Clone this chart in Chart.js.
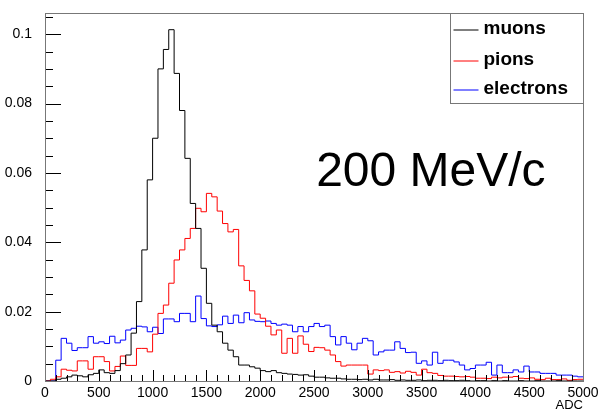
<!DOCTYPE html>
<html>
<head>
<meta charset="utf-8">
<script src="https://cdn.jsdelivr.net/npm/chart.js@4.4.1/dist/chart.umd.min.js"></script>
<style>
  html, body { margin: 0; padding: 0; background: #ffffff; }
  canvas { display: block; }
</style>
</head>
<body>
<canvas id="c" width="598" height="413"></canvas>
<script>
// Histogram binning: 100 bins of 50 ADC counts from 0 to 5000
const binWidth = 50;

// Normalised counts per bin
const muons = [
  0, 0, 0.0005, 0.0008, 0.0012, 0.0017, 0.0015, 0.0012, 0.0018, 0.0022,
  0.0032, 0.0024, 0.0022, 0.0030, 0.0050, 0.0075, 0.0138, 0.0229, 0.0378, 0.0580,
  0.0700, 0.0900, 0.0956, 0.1013, 0.0887, 0.0780, 0.0642, 0.0512, 0.0440, 0.0325,
  0.0224, 0.0161, 0.0142, 0.0109, 0.0089, 0.0070, 0.0046, 0.0046, 0.0041, 0.0037,
  0.0030, 0.0027, 0.0030, 0.0024, 0.0022, 0.0020, 0.0019, 0.0017, 0.0018, 0.0014,
  0.0011, 0.0011, 0.0009, 0.0008, 0.0008, 0.0006, 0.0005, 0.0005, 0.0004, 0.0005,
  0.0003, 0.0005, 0.0003, 0.0003, 0.0004, 0.0002, 0.0003, 0.0002, 0.0002, 0.0003,
  0.0001, 0.0002, 0.0002, 0.0001, 0.0002, 0.0001, 0.0001, 0.0002, 0.0001, 0,
  0.0001, 0.0001, 0, 0.0001, 0, 0.0001, 0, 0, 0.0001, 0,
  0, 0.0001, 0, 0, 0, 0.0001, 0, 0, 0, 0
];

const pions = [
  0, 0.0005, 0.0012, 0.0034, 0.0031, 0.0029, 0.0058, 0.0058, 0.0034, 0.0070,
  0.0070, 0.0056, 0.0029, 0.0042, 0.0072, 0.0045, 0.0045, 0.0094, 0.0094, 0.0084,
  0.0135, 0.0195, 0.0219, 0.0282, 0.0349, 0.0378, 0.0411, 0.0440, 0.0498, 0.0488,
  0.0541, 0.0531, 0.0490, 0.0454, 0.0430, 0.0437, 0.0332, 0.0290, 0.0260, 0.0193,
  0.0181, 0.0158, 0.0133, 0.0147, 0.0080, 0.0123, 0.0080, 0.0130, 0.0106, 0.0085,
  0.0097, 0.0096, 0.0089, 0.0075, 0.0056, 0.0043, 0.0046, 0.0046, 0.0046, 0.0046,
  0.0020, 0.0032, 0.0030, 0.0032, 0.0025, 0.0027, 0.0023, 0.0028, 0.0025, 0.0017,
  0.0034, 0.0024, 0.0022, 0.0016, 0.0014, 0.0014, 0.0013, 0.0012, 0.0013, 0.0011,
  0.0008, 0.0008, 0.0007, 0.0011, 0.0009, 0.0011, 0.0011, 0.0013, 0.0008, 0.0007,
  0.0009, 0.0005, 0.0004, 0.0008, 0.0004, 0.0004, 0.0006, 0.0002, 0.0004, 0.0005
];

const electrons = [
  0, 0, 0.0060, 0.0123, 0.0109, 0.0088, 0.0096, 0.0096, 0.0128, 0.0109,
  0.0113, 0.0108, 0.0129, 0.0110, 0.0118, 0.0147, 0.0152, 0.0158, 0.0156, 0.0142,
  0.0155, 0.0137, 0.0179, 0.0179, 0.0171, 0.0195, 0.0195, 0.0171, 0.0245, 0.0180,
  0.0159, 0.0157, 0.0162, 0.0187, 0.0166, 0.0190, 0.0168, 0.0197, 0.0176, 0.0172,
  0.0171, 0.0173, 0.0166, 0.0161, 0.0164, 0.0161, 0.0142, 0.0157, 0.0142, 0.0157,
  0.0166, 0.0157, 0.0161, 0.0128, 0.0104, 0.0128, 0.0109, 0.0090, 0.0109, 0.0123,
  0.0116, 0.0075, 0.0084, 0.0089, 0.0089, 0.0113, 0.0094, 0.0082, 0.0083, 0.0051,
  0.0058, 0.0046, 0.0083, 0.0051, 0.0060, 0.0060, 0.0055, 0.0046, 0.0032, 0.0036,
  0.0046, 0.0046, 0.0054, 0.0017, 0.0046, 0.0024, 0.0024, 0.0032, 0.0026, 0.0043,
  0.0026, 0.0026, 0.0022, 0.0022, 0.0022, 0.0017, 0.0017, 0.0017, 0.0014, 0.0012
];

const seriesNames = ['muons', 'pions', 'electrons'];
const seriesColors = ['#000000', '#ff0000', '#0000ff'];

const xTickValues = [0, 500, 1000, 1500, 2000, 2500, 3000, 3500, 4000, 4500, 5000];
const yTickValues = [0, 0.02, 0.04, 0.06, 0.08, 0.1];
const xTitle = 'ADC';
const momentumLabel = '200 MeV/c';

const FONT = '"Liberation Sans", Arial, Helvetica, sans-serif';

// Turn bin contents into points at the bin edges for a stepped outline
function toSteps(values) {
  const pts = values.map((v, i) => ({ x: i * binWidth, y: v }));
  pts.push({ x: values.length * binWidth, y: values[values.length - 1] });
  return pts;
}

// Inner tick marks, frame, legend box and the momentum annotation
const decorations = {
  id: 'decorations',
  afterDatasetsDraw(chart) {
    const { ctx, chartArea: a, scales: { x, y } } = chart;
    ctx.save();
    ctx.lineWidth = 1;

    // y ticks every 0.005, long ones every 0.02
    ctx.strokeStyle = '#000000';
    ctx.beginPath();
    for (let k = 0; k * 0.005 <= y.max + 1e-9; k++) {
      const py = Math.round(y.getPixelForValue(k * 0.005)) + 0.5;
      const len = (k % 4 === 0) ? 16 : 8;
      ctx.moveTo(a.left, py);
      ctx.lineTo(a.left + len, py);
    }
    // x ticks every 100, long ones every 500
    for (let k = 0; k * 100 <= x.max; k++) {
      const px = Math.round(x.getPixelForValue(k * 100)) + 0.5;
      const len = (k % 5 === 0) ? 11 : 6;
      ctx.moveTo(px, a.bottom);
      ctx.lineTo(px, a.bottom - len);
    }
    ctx.stroke();

    // frame
    ctx.strokeStyle = '#777777';
    ctx.strokeRect(Math.round(a.left) + 0.5, Math.round(a.top) + 0.5,
                   Math.round(a.right - a.left), Math.round(a.bottom - a.top));

    // legend box in the top right corner of the frame
    const bw = 133, bh = 90;
    const bx = Math.round(a.right) - bw + 0.5, by = Math.round(a.top) + 0.5;
    ctx.fillStyle = '#ffffff';
    ctx.fillRect(bx, by, bw, bh);
    ctx.strokeStyle = '#777777';
    ctx.strokeRect(bx, by, bw, bh);
    const rows = [16, 47, 76];
    ctx.font = 'bold 19px ' + FONT;
    ctx.textBaseline = 'middle';
    ctx.textAlign = 'left';
    seriesNames.forEach((name, i) => {
      const ry = Math.round(by + rows[i]);
      ctx.strokeStyle = seriesColors[i];
      ctx.beginPath();
      ctx.moveTo(bx + 3, ry);
      ctx.lineTo(bx + 28, ry);
      ctx.stroke();
      ctx.fillStyle = '#000000';
      ctx.fillText(name, bx + 33, ry - 1);
    });

    // momentum annotation
    ctx.font = '48px ' + FONT;
    ctx.textBaseline = 'alphabetic';
    ctx.fillStyle = '#000000';
    ctx.fillText(momentumLabel, x.getPixelForValue(2520), y.getPixelForValue(0.0561));
    ctx.restore();
  }
};

new Chart(document.getElementById('c'), {
  type: 'line',
  data: {
    datasets: [muons, pions, electrons].map((vals, i) => ({
      label: seriesNames[i],
      data: toSteps(vals),
      borderColor: seriesColors[i],
      borderWidth: 1,
      stepped: true,
      pointRadius: 0,
      fill: false,
      tension: 0
    }))
  },
  options: {
    responsive: false,
    devicePixelRatio: 1,
    animation: false,
    events: [],
    layout: { padding: { left: 0, right: 15, top: 13, bottom: 0 } },
    plugins: { legend: { display: false }, tooltip: { enabled: false } },
    scales: {
      x: {
        type: 'linear',
        min: 0,
        max: 5000,
        grid: { display: false },
        border: { display: false },
        afterBuildTicks(scale) { scale.ticks = xTickValues.map(v => ({ value: v })); },
        afterFit(scale) { scale.height = 32; scale.paddingLeft = 0; scale.paddingRight = 0; },
        ticks: {
          autoSkip: false,
          maxRotation: 0,
          padding: -4,
          color: '#000000',
          font: { family: FONT, size: 14 },
          callback: v => String(v)
        },
        title: {
          display: true,
          text: xTitle,
          align: 'end',
          color: '#000000',
          font: { family: FONT, size: 13 },
          padding: { top: 0, bottom: 0 }
        }
      },
      y: {
        type: 'linear',
        min: 0,
        max: 0.106,
        grid: { display: false },
        border: { display: false },
        afterBuildTicks(scale) { scale.ticks = yTickValues.map(v => ({ value: v })); },
        afterFit(scale) { scale.width = 45; },
        ticks: {
          padding: 5,
          color: '#000000',
          font: { family: FONT, size: 14 },
          callback: v => String(v)
        }
      }
    }
  },
  plugins: [decorations]
});
</script>
</body>
</html>
